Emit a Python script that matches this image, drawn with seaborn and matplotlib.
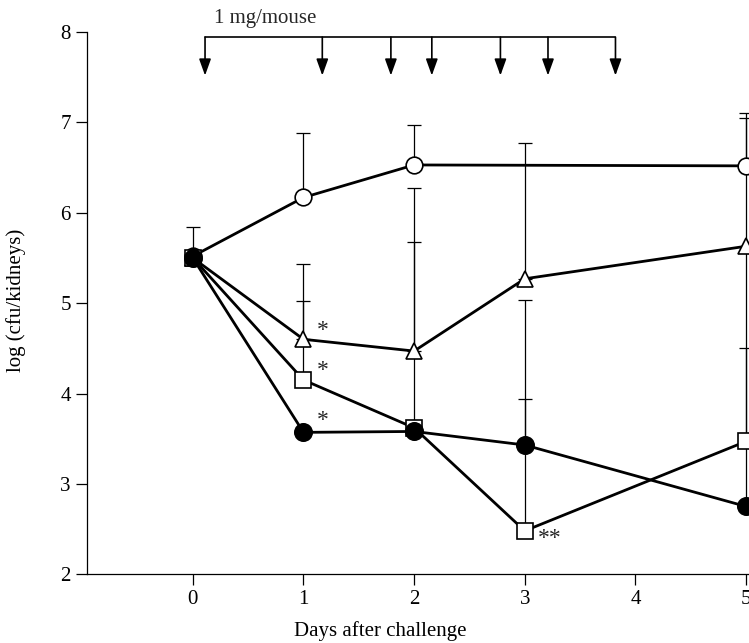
import numpy as np
import pandas as pd
import seaborn as sns
import matplotlib.pyplot as plt

# days after challenge
days = [0, 1, 2, 3, 5]

# log(cfu/kidneys) means, NaN = not measured
open_circle = [5.52, 6.17, 6.53, np.nan, 6.52]
open_triangle = [5.50, 4.60, 4.47, 5.27, 5.63]
open_square = [5.50, 4.15, 3.62, 2.48, 3.47]
filled_circle = [5.50, 3.57, 3.58, 3.43, 2.75]

# upper end of the error bars
open_circle_top = [5.84, 6.88, 6.97, np.nan, 7.10]
open_triangle_top = [np.nan, 5.43, 6.27, 6.77, np.nan]
open_square_top = [np.nan, 5.02, 5.68, 5.03, 7.05]
filled_circle_top = [np.nan, np.nan, np.nan, 3.94, 4.50]

# dosing times (1 mg/mouse)
dose_days = [0.11, 1.17, 1.79, 2.16, 2.78, 3.21, 3.82]

sns.set_theme(style="ticks")
plt.rcParams['font.family'] = ['Liberation Serif', 'DejaVu Serif']

fig = plt.figure(figsize=(7.49, 6.43), dpi=100)
ax = fig.add_axes([0.116, 0.107, 0.884, 0.843])

series = [
    (open_circle, open_circle_top, 'o', 'white', 12),
    (open_triangle, open_triangle_top, '^', 'white', 12),
    (open_square, open_square_top, 's', 'white', 11),
    (filled_circle, filled_circle_top, 'o', 'black', 12.5),
]

for vals, tops, mk, fc, ms in series:
    df = pd.DataFrame({'day': days, 'val': vals, 'top': tops})
    eb = df.dropna(subset=['val', 'top'])
    ax.errorbar(eb['day'], eb['val'], yerr=[np.zeros(len(eb)), eb['top'] - eb['val']],
                fmt='none', ecolor='black', elinewidth=0.9, capsize=5, capthick=0.9, zorder=1)
    d = df.dropna(subset=['val'])
    sns.lineplot(data=d, x='day', y='val', ax=ax, color='black', lw=2,
                 marker=mk, markersize=ms, markerfacecolor=fc,
                 markeredgecolor='black', markeredgewidth=1.2, zorder=3)

# significance marks
ax.text(1.12, 4.70, '*', fontsize=17, ha='left', va='center')
ax.text(1.12, 4.25, '*', fontsize=17, ha='left', va='center')
ax.text(1.12, 3.70, '*', fontsize=17, ha='left', va='center')
ax.text(3.12, 2.40, '**', fontsize=17, ha='left', va='center')

# dosing schedule
ax.plot([dose_days[0], dose_days[-1]], [7.945, 7.945], color='black', lw=1.2, clip_on=False)
for d in dose_days:
    ax.annotate('', xy=(d, 7.52), xytext=(d, 7.945),
                arrowprops=dict(arrowstyle='-|>,head_length=0.5,head_width=0.18',
                                color='black', lw=1.2, mutation_scale=20,
                                shrinkA=0, shrinkB=0))
ax.text(0.65, 8.155, '1 mg/mouse', fontsize=15, ha='center', va='center', clip_on=False)

ax.set_xlim(-0.958, 5.027)
ax.set_ylim(2, 8)
ax.set_xticks(range(0, 6))
ax.set_yticks(range(2, 9))
sns.despine(ax=ax)
for s in ['left', 'bottom']:
    ax.spines[s].set_linewidth(0.9)
    ax.spines[s].set_color('black')
ax.tick_params(direction='out', length=8, width=0.9, labelsize=15, colors='black')

ax.set_xlabel('Days after challenge', fontsize=15, color='black')
ax.set_ylabel('log (cfu/kidneys)', fontsize=15, color='black')
ax.xaxis.set_label_coords(0.443, -0.086)
ax.yaxis.set_label_coords(-0.092, 0.505)

fig.savefig('out.png', dpi=100)
